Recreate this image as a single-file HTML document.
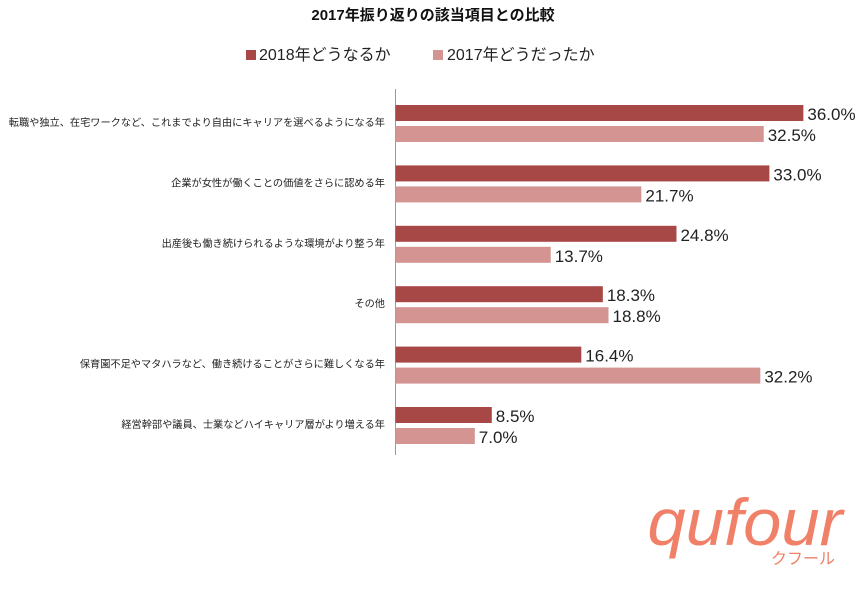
<!DOCTYPE html>
<html><head><meta charset="utf-8">
<style>
body{margin:0;background:#fff;width:867px;height:592px;overflow:hidden;font-family:"Liberation Sans","Noto Sans CJK JP",sans-serif;}
svg text{font-family:"Liberation Sans","Noto Sans CJK JP",sans-serif;}
</style></head><body>
<svg id="chart" width="867" height="592" xmlns="http://www.w3.org/2000/svg">
<text x="433" y="20" text-anchor="middle" font-size="15" font-weight="bold" fill="#111">2017年振り返りの該当項目との比較</text>
<g>
<rect x="246" y="50" width="10" height="10" fill="#a84846"/>
<text x="259" y="60" font-size="16" fill="#222">2018年どうなるか</text>
<rect x="433" y="50" width="10" height="10" fill="#d39492"/>
<text x="447" y="60" font-size="16" fill="#222">2017年どうだったか</text>
</g>
<line x1="395.5" y1="89" x2="395.5" y2="455" stroke="#999" stroke-width="1"/>
<g id="bars"></g>
<g>
<text x="745" y="545" text-anchor="middle" font-family="Liberation Serif,serif" font-style="italic" font-size="66" fill="#f08068" textLength="195" lengthAdjust="spacingAndGlyphs">qufour</text>
<text x="803" y="564" text-anchor="middle" font-size="16" fill="#f08068">クフール</text>
</g>
</svg>
<script>
const categories=["転職や独立、在宅ワークなど、これまでより自由にキャリアを選べるようになる年","企業が女性が働くことの価値をさらに認める年","出産後も働き続けられるような環境がより整う年","その他","保育園不足やマタハラなど、働き続けることがさらに難しくなる年","経営幹部や議員、士業などハイキャリア層がより増える年"];
const values2018=[36.0,33.0,24.8,18.3,16.4,8.5];
const values2017=[32.5,21.7,13.7,18.8,32.2,7.0];
const ns="http://www.w3.org/2000/svg";
const g=document.getElementById('bars');
const x0=395.5, pxPer=11.33;
const xScale=v=>v*pxPer;
const yRow=i=>105+i*60.4;
function mk(tag,attrs){const e=document.createElementNS(ns,tag);for(const k in attrs)e.setAttribute(k,attrs[k]);g.appendChild(e);return e;}
categories.forEach((c,i)=>{
  const y=yRow(i);
  const lab=mk('text',{x:385,y:y+21,'text-anchor':'end','font-size':'10.2',fill:'#222'});
  lab.textContent=c;
  
  
  [[values2018[i],'#a84846',y,'bar-2018'],[values2017[i],'#d39492',y+21,'bar-2017']].forEach(([v,col,yy,nm])=>{
    const r=mk('rect',{x:x0,y:yy,width:xScale(v),height:16,fill:col});
    
    
    const t=mk('text',{x:x0+xScale(v)+4,y:yy+15,'font-size':'17',fill:'#222'});
    t.textContent=v.toFixed(1)+'%';
    
    
  });
});
</script>
</body></html>
